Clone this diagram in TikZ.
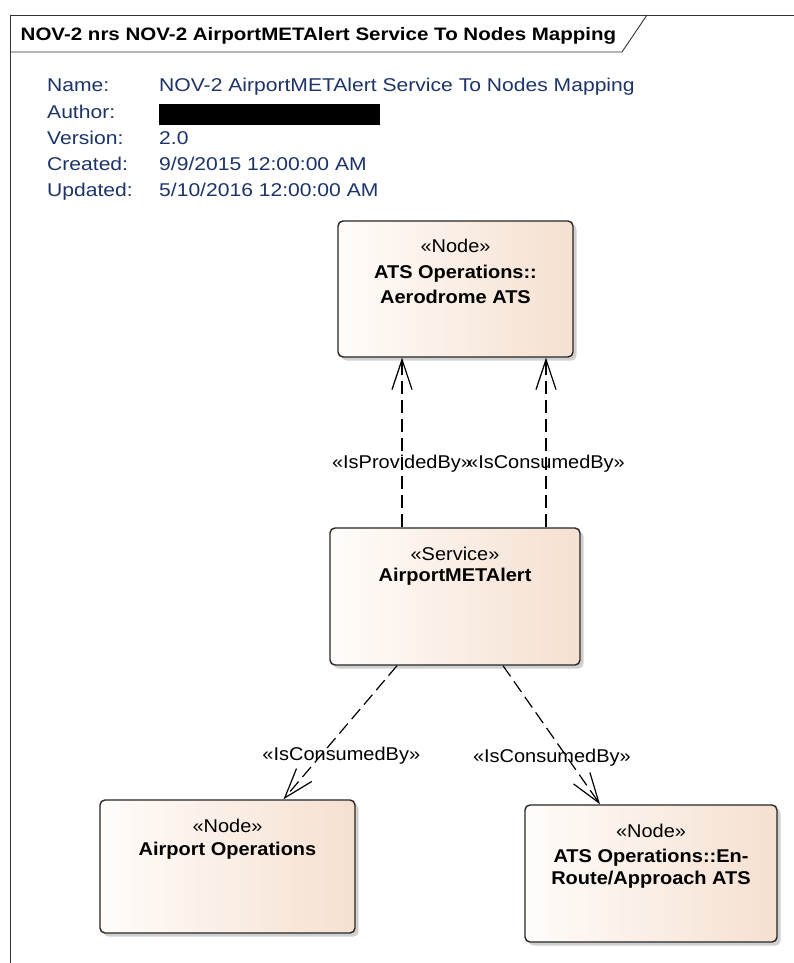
\documentclass[tikz,border=0pt]{standalone}
\usepackage{fontspec}
\setmainfont[FakeStretch=1.08]{Liberation Sans}
\newfontfamily\metafont[FakeStretch=1.14]{Liberation Sans}
\newfontfamily\titlefont[FakeStretch=1.14]{Liberation Sans}
\usetikzlibrary{arrows.meta,shadows}
\definecolor{metablue}{RGB}{28,52,104}
\definecolor{peach}{RGB}{245,224,208}
\definecolor{peachlight}{RGB}{255,252,250}
\tikzset{
  elem/.style={draw=black!85, line width=1.4pt, rounded corners=5pt,
    left color=peachlight, right color=peach,
    drop shadow={shadow xshift=3.5pt, shadow yshift=-3.5pt, opacity=0.3, fill=black!60}},
  stereo/.style={anchor=base, inner sep=0pt, font=\fontsize{18.5}{22}\selectfont},
  elname/.style={anchor=base, inner sep=0pt, font=\bfseries\fontsize{18.5}{22}\selectfont},
  meta/.style={anchor=base west, inner sep=0pt, text=metablue, font=\metafont\fontsize{18.5}{22}\selectfont},
  rel/.style={line width=1.2pt, dash pattern=on 13pt off 6pt,
    -{Straight Barb[length=30pt,width=20pt,line width=1.2pt]}},
  rellabel/.style={anchor=base, inner sep=0pt, font=\fontsize{18.5}{22}\selectfont, text=black},
  frameline/.style={draw=black!80, line width=0.9pt}
}
\begin{document}
\begin{tikzpicture}[x=1pt,y=-1pt]
\useasboundingbox (0,0) rectangle (794,963);
\fill[white] (0,0) rectangle (794,963);

% diagram frame and name tab
\draw[frameline] (794,15) -- (10,15) -- (10,963);
\draw[frameline] (10,52) -- (622,52) -- (647,15);
\node[anchor=base west, inner sep=0pt, font=\titlefont\bfseries\fontsize{18}{22}\selectfont] (title) at (20.5,40.5)
  {NOV-2 nrs NOV-2 AirportMETAlert Service To Nodes Mapping};

% diagram properties
\node[meta] (kname) at (47,92) {Name:};
\node[meta] (kauth) at (47,118) {Author:};
\node[meta] (kver) at (47,144) {Version:};
\node[meta] (kcre) at (47,170) {Created:};
\node[meta] (kupd) at (47,196) {Updated:};
\node[meta] (vname) at (159,92) {NOV-2 AirportMETAlert Service To Nodes Mapping};
\node[fill=black, inner sep=0pt, minimum width=221pt, minimum height=21pt, anchor=north west] (vauth) at (159,104) {};
\node[meta] (vver) at (159,144) {2.0};
\node[meta] (vcre) at (159,170) {9/9/2015 12:00:00 AM};
\node[meta] (vupd) at (159,196) {5/10/2016 12:00:00 AM};

% elements
\node[elem, minimum width=235pt, minimum height=136pt] (aero) at (455.5,289) {};
\node[stereo] (aero1) at ([yshift=-32pt]aero.north) {«Node»};
\node[elname] (aero2) at ([yshift=-58pt]aero.north) {ATS Operations::};
\node[elname] (aero3) at ([yshift=-83pt]aero.north) {Aerodrome ATS};

\node[elem, minimum width=250pt, minimum height=137pt] (svc) at (455,596.5) {};
\node[stereo] (svc1) at ([yshift=-33pt]svc.north) {«Service»};
\node[elname] (svc2) at ([yshift=-54pt]svc.north) {AirportMETAlert};

\node[elem, minimum width=255pt, minimum height=133pt] (apt) at (227.5,866.5) {};
\node[stereo] (apt1) at ([yshift=-33pt]apt.north) {«Node»};
\node[elname] (apt2) at ([yshift=-56pt]apt.north) {Airport Operations};

\node[elem, minimum width=252pt, minimum height=137pt] (enr) at (651,873.5) {};
\node[stereo] (enr1) at ([yshift=-33pt]enr.north) {«Node»};
\node[elname] (enr2) at ([yshift=-58pt]enr.north) {ATS Operations::En-};
\node[elname] (enr3) at ([yshift=-80pt]enr.north) {Route/Approach ATS};

% relationships
\draw[rel] ([xshift=-53pt]svc.north) -- ([xshift=-53.5pt]aero.south)
  node[rellabel, pos=0.345] (lprov) {«IsProvidedBy»};
\draw[rel] ([xshift=91pt]svc.north) -- ([xshift=90.5pt]aero.south)
  node[rellabel, pos=0.345] (lcons1) {«IsConsumedBy»};
\draw[rel] ([xshift=-58pt]svc.south) -- ([xshift=56pt]apt.north)
  node[rellabel, pos=0.711, xshift=25pt] (lcons2) {«IsConsumedBy»};
\draw[rel] ([xshift=48pt]svc.south) -- ([xshift=-51pt]enr.north)
  node[rellabel, pos=0.7, xshift=-19pt] (lcons3) {«IsConsumedBy»};
\end{tikzpicture}
\end{document}
